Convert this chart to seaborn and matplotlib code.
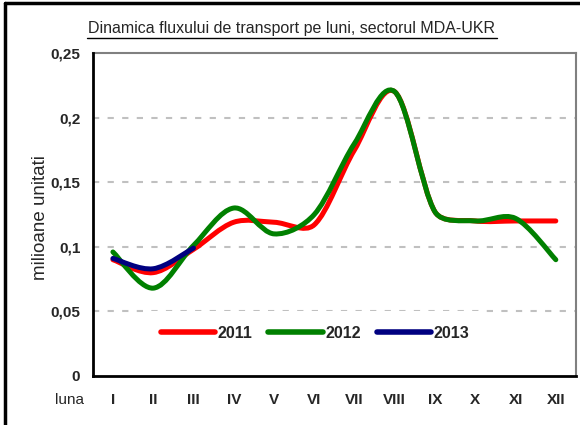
import numpy as np
import matplotlib
matplotlib.use("Agg")
import matplotlib.pyplot as plt
import seaborn as sns
from matplotlib.path import Path
from matplotlib.patches import PathPatch
from matplotlib.lines import Line2D

# ---- data ----
months = ["I", "II", "III", "IV", "V", "VI", "VII", "VIII", "IX", "X", "XI", "XII"]
y2011 = [0.090, 0.080, 0.098, 0.119, 0.119, 0.117, 0.175, 0.220, 0.127, 0.120, 0.120, 0.120]
y2012 = [0.096, 0.068, 0.101, 0.130, 0.110, 0.125, 0.180, 0.220, 0.127, 0.120, 0.122, 0.090]
y2013 = [0.091, 0.083, 0.099]
years = ["2011", "2012", "2013"]
colors = ["#ff0000", "#008000", "#000080"]

sns.set_style("white")
plt.rcParams["font.family"] = ["Liberation Sans", "DejaVu Sans"]

fig = plt.figure(figsize=(5.8, 4.25), dpi=100)
ax = fig.add_axes([0.160, 0.1153, 0.833, 0.760])

# pixel scale of the axes, used so the smoothing behaves like on screen
SX, SY = 40.25, 1292.0


def smooth_path(vals):
    # smoothed line like a spreadsheet chart: bezier through every point,
    # arm = chord/6, capped at 1/3 of the segment so short steps do not overshoot
    pts = np.column_stack([np.arange(len(vals)) * SX, np.asarray(vals) * SY])
    n = len(pts)
    verts = [pts[0]]
    codes = [Path.MOVETO]
    for i in range(n - 1):
        p0 = pts[max(i - 1, 0)]
        p1 = pts[i]
        p2 = pts[i + 1]
        p3 = pts[min(i + 2, n - 1)]
        seg = np.linalg.norm(p2 - p1)
        d1 = p2 - p0
        d2 = p3 - p1
        a1 = min(np.linalg.norm(d1) / 6.0, seg / 3.0)
        a2 = min(np.linalg.norm(d2) / 6.0, seg / 3.0)
        c1 = p1 + d1 / np.linalg.norm(d1) * a1
        c2 = p2 - d2 / np.linalg.norm(d2) * a2
        verts += [c1, c2, p2]
        codes += [Path.CURVE4] * 3
    verts = np.array(verts) / [SX, SY]
    return Path(verts, codes)


for vals, c in zip([y2011, y2012, y2013], colors):
    patch = PathPatch(smooth_path(vals), facecolor="none", edgecolor=c,
                      lw=3.6, capstyle="round", joinstyle="round", zorder=3)
    ax.add_patch(patch)

ax.set_xlim(-0.5, 11.5)
ax.set_ylim(0, 0.25)

# grid lines (dashed gray)
for g in [0.05, 0.10, 0.15, 0.20]:
    ax.axhline(g, color="#c0c0c0", lw=1.5, ls=(0, (3, 4)), zorder=1)

ax.set_yticks([0, 0.05, 0.10, 0.15, 0.20, 0.25])
ax.set_yticklabels(["0", "0,05", "0,1", "0,15", "0,2", "0,25"],
                   fontsize=11, fontweight="bold")
ax.set_xticks(np.arange(-0.5, 12, 1))
ax.set_xticklabels([])
ax.set_xticks(np.arange(12), minor=True)
ax.set_xticklabels(months, minor=True, fontsize=11, fontweight="bold")
ax.tick_params(axis="x", which="minor", length=0, pad=12)
ax.tick_params(axis="x", which="major", length=5, width=1.5, direction="out", color="black")
ax.tick_params(axis="y", length=6, width=1.5, direction="out", color="black", pad=3)

for s in ["left", "bottom"]:
    ax.spines[s].set_color("black")
    ax.spines[s].set_linewidth(2)
for s in ["top", "right"]:
    ax.spines[s].set_color("#808080")
    ax.spines[s].set_linewidth(1.5)
ax.spines["left"].set_zorder(4)
ax.spines["bottom"].set_zorder(4)

ax.set_ylabel("milioane unitati", fontsize=13.5)
ax.yaxis.set_label_coords(-0.090, 0.49)
fig.text(69 / 580, 1 - 400 / 425, "luna", fontsize=11, ha="center", va="center")

fig.text(292 / 580, 1 - 29 / 425,
         "Dinamica fluxului de transport pe luni, sectorul MDA-UKR",
         fontsize=11.5, ha="center", va="center")
fig.add_artist(Line2D([87 / 580, 497 / 580], [1 - 38 / 425, 1 - 38 / 425],
                      color="black", lw=1))

handles = [Line2D([], [], color=c, lw=4, solid_capstyle="round") for c in colors]
leg = ax.legend(handles, years, loc="center", bbox_to_anchor=(0.46, 0.133),
                ncol=3, frameon=True, framealpha=1, edgecolor="none",
                prop={"weight": "bold", "size": 11.5}, handlelength=3.4,
                handletextpad=0.15, columnspacing=1.0, borderpad=0.9)
leg.set_zorder(5)

# outer frame (top and left visible)
fig.add_artist(Line2D([5 / 580, 5 / 580], [0, 1 - 3 / 425], color="black", lw=2.5))
fig.add_artist(Line2D([5 / 580, 1], [1 - 3 / 425, 1 - 3 / 425], color="black", lw=2.5))

fig.savefig("out.png", dpi=100)
